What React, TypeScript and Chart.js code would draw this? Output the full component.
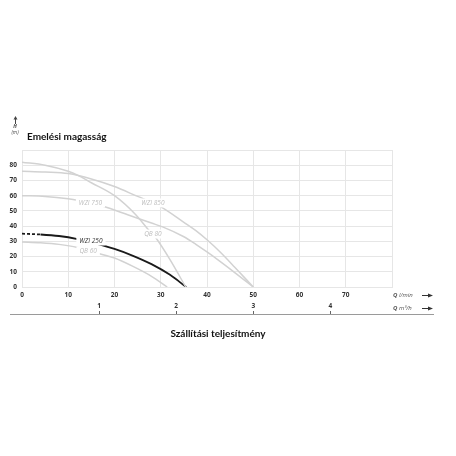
import { useEffect, useRef } from "react";
import { Chart, registerables } from "chart.js";

Chart.register(...registerables);

// ---- data ----
const flowTicks = [0, 10, 20, 30, 40, 50, 60, 70, 80];
const headTicks = [0, 10, 20, 30, 40, 50, 60, 70, 80, 90];
const m3hTicks = [1, 2, 3, 4];
const LMIN_PER_M3H = 1000 / 60;

const wzi250Q = [0, 4, 8, 12, 16, 20, 24, 28, 32, 35.5];
const wzi250H = [35, 34.5, 33.5, 31.5, 28.5, 25, 20.5, 15, 8, 0];

const qb60Q = [0, 4, 8, 12, 16, 20, 24, 28, 31.4];
const qb60H = [29.5, 29, 28, 26, 22.5, 19, 13.5, 7, 0];

const qb80Q = [0, 5, 10, 12, 15, 20, 24.6, 27.1, 29, 32, 35.4];
const qb80H = [82, 80, 76, 73.5, 68.5, 60, 47.5, 38.5, 32, 18, 0];

const wzi850Q = [0, 5, 10, 15, 20, 25, 27.8, 30.4, 35, 37.6, 40, 43, 46, 50];
const wzi850H = [76, 75.5, 74.5, 71, 66, 59.5, 56, 52, 42.5, 37, 31, 22.5, 13, 0];

const wzi750Q = [0, 5, 10, 12, 17.5, 23, 28, 30.4, 35, 37.6, 40, 42.3, 46, 50];
const wzi750H = [60, 59.5, 58, 57, 53, 47.3, 42, 39.5, 33, 28, 23, 18, 9.5, 0];

const curveLabels = ["WZI 750", "WZI 850", "QB 80", "WZI 250", "QB 60"];
const labelQ = [14.8, 28.3, 28.3, 14.9, 14.3];
const labelH = [55.2, 55.2, 34.8, 30.2, 23.7];
const labelDark = [false, false, false, true, false];

const yTitle = "Emelési magasság";
const xTitle = "Szállítási teljesítmény";

const pts = (q: number[], h: number[]) => q.map((x, i) => ({ x, y: h[i] }));

const GRAY = "#d2d2d2";
const GRID = "#e6e6e6";

export default function App() {
  const ref = useRef<HTMLCanvasElement | null>(null);

  useEffect(() => {
    if (!ref.current) return;

    const labelPlugin = {
      id: "curveLabels",
      afterDatasetsDraw(chart: any) {
        const { ctx, scales } = chart;
        ctx.save();
        ctx.font = "italic 6.5px 'Open Sans'";
        ctx.textAlign = "center";
        ctx.textBaseline = "middle";
        curveLabels.forEach((t, i) => {
          const x = scales.x.getPixelForValue(labelQ[i]);
          const y = scales.y.getPixelForValue(labelH[i]);
          const w = ctx.measureText(t).width;
          ctx.fillStyle = "#fff";
          ctx.fillRect(x - w / 2 - 3, y - 4.5, w + 6, 9);
          ctx.fillStyle = labelDark[i] ? "#333" : "#bdbdbd";
          ctx.fillText(t, x, y);
        });
        ctx.restore();
      },
    };

    const decoPlugin = {
      id: "deco",
      afterDraw(chart: any) {
        const { ctx, scales, chartArea } = chart;
        ctx.save();
        // titles
        ctx.fillStyle = "#111";
        ctx.font = "bold 10px Lato";
        ctx.textBaseline = "middle";
        ctx.textAlign = "left";
        ctx.fillText(yTitle, chartArea.left + 5, 137);
        ctx.textAlign = "center";
        ctx.fillText(xTitle, 218, 334);

        // H (m) with arrow
        ctx.fillStyle = "#444";
        ctx.font = "italic bold 5px 'Open Sans'";
        ctx.fillText("H", 15, 127);
        ctx.font = "italic 5px 'Open Sans'";
        ctx.fillText("(m)", 15, 133);
        ctx.strokeStyle = "#444";
        ctx.lineWidth = 1;
        ctx.beginPath();
        ctx.moveTo(15.5, 124);
        ctx.lineTo(15.5, 118);
        ctx.stroke();
        ctx.beginPath();
        ctx.moveTo(15.5, 116);
        ctx.lineTo(13.5, 119.5);
        ctx.lineTo(17.5, 119.5);
        ctx.closePath();
        ctx.fill();

        // right side unit labels with arrows
        const unit = (yy: number, u: string) => {
          ctx.textAlign = "left";
          ctx.fillStyle = "#555";
          ctx.font = "italic bold 6px 'Open Sans'";
          ctx.fillText("Q", 393, yy);
          const qw = ctx.measureText("Q ").width;
          ctx.font = "italic 6px 'Open Sans'";
          ctx.fillText(u, 393 + qw, yy);
          ctx.strokeStyle = "#333";
          ctx.beginPath();
          ctx.moveTo(422, yy + 0.5);
          ctx.lineTo(429, yy + 0.5);
          ctx.stroke();
          ctx.fillStyle = "#333";
          ctx.beginPath();
          ctx.moveTo(433, yy + 0.5);
          ctx.lineTo(428, yy - 1.5);
          ctx.lineTo(428, yy + 2.5);
          ctx.closePath();
          ctx.fill();
        };
        unit(295, "l/min");
        unit(308, "m³/h");

        // baseline for second axis
        ctx.strokeStyle = "#9a9a9a";
        ctx.lineWidth = 1;
        ctx.beginPath();
        ctx.moveTo(10, 314.5);
        ctx.lineTo(434, 314.5);
        ctx.stroke();
        ctx.strokeStyle = "#666";
        m3hTicks.forEach((v) => {
          const x = Math.round(scales.x2.getPixelForValue(v)) + 0.5;
          ctx.beginPath();
          ctx.moveTo(x, 311);
          ctx.lineTo(x, 314);
          ctx.stroke();
        });
        ctx.restore();
      },
    };

    const tickFont = { family: "'Open Sans'", size: 6.5, weight: "bold" as const };

    const chart = new Chart(ref.current, {
      type: "line",
      data: {
        datasets: [
          {
            label: "WZI 750",
            data: pts(wzi750Q, wzi750H),
            borderColor: GRAY,
            borderWidth: 1.5,
            pointRadius: 0,
            cubicInterpolationMode: "monotone",
          },
          {
            label: "WZI 850",
            data: pts(wzi850Q, wzi850H),
            borderColor: GRAY,
            borderWidth: 1.5,
            pointRadius: 0,
            cubicInterpolationMode: "monotone",
          },
          {
            label: "QB 80",
            data: pts(qb80Q, qb80H),
            borderColor: GRAY,
            borderWidth: 1.5,
            pointRadius: 0,
            cubicInterpolationMode: "monotone",
          },
          {
            label: "QB 60",
            data: pts(qb60Q, qb60H),
            borderColor: GRAY,
            borderWidth: 1.5,
            pointRadius: 0,
            cubicInterpolationMode: "monotone",
          },
          {
            label: "WZI 250",
            data: pts(wzi250Q, wzi250H),
            borderColor: "#1a1a1a",
            borderWidth: 1.8,
            pointRadius: 0,
            cubicInterpolationMode: "monotone",
            segment: {
              borderDash: (c: any) => (c.p0DataIndex === 0 ? [3, 2] : undefined),
            },
          },
        ],
      },
      options: {
        responsive: false,
        animation: false,
        layout: { padding: { top: 150, right: 64, bottom: 135, left: 0 } },
        plugins: {
          legend: { display: false },
          tooltip: { enabled: false },
          title: { display: false },
        },
        scales: {
          x: {
            type: "linear",
            position: "bottom",
            min: flowTicks[0],
            max: flowTicks[flowTicks.length - 1],
            afterBuildTicks: (s: any) => {
              s.ticks = flowTicks.map((v) => ({ value: v }));
            },
            afterFit: (s: any) => {
              s.height = 14;
            },
            grid: { color: GRID, drawTicks: false },
            border: { color: GRID },
            ticks: {
              padding: 4,
              font: tickFont,
              color: "#333",
              maxRotation: 0,
              callback: (v: any) => (v === flowTicks[flowTicks.length - 1] ? "" : String(v)),
            },
          },
          x2: {
            type: "linear",
            position: "bottom",
            min: 0,
            max: flowTicks[flowTicks.length - 1] / LMIN_PER_M3H,
            afterBuildTicks: (s: any) => {
              s.ticks = m3hTicks.map((v) => ({ value: v }));
            },
            afterFit: (s: any) => {
              s.height = 20;
            },
            grid: { display: false, drawTicks: false },
            border: { display: false },
            ticks: {
              padding: 1,
              font: tickFont,
              color: "#333",
              maxRotation: 0,
            },
          },
          y: {
            type: "linear",
            min: headTicks[0],
            max: headTicks[headTicks.length - 1],
            afterBuildTicks: (s: any) => {
              s.ticks = headTicks.map((v) => ({ value: v }));
            },
            afterFit: (s: any) => {
              s.width = 22;
            },
            grid: { color: GRID, drawTicks: false },
            border: { color: GRID },
            ticks: {
              padding: 5,
              font: tickFont,
              color: "#333",
              callback: (v: any) => (v === headTicks[headTicks.length - 1] ? "" : String(v)),
            },
          },
        },
      },
      plugins: [labelPlugin, decoPlugin],
    });
    return () => chart.destroy();
  }, []);

  return (
    <div style={{ position: "absolute", left: 0, top: 0, width: 456, height: 456, background: "#fff" }}>
      <canvas ref={ref} width={456} height={456} />
    </div>
  );
}
